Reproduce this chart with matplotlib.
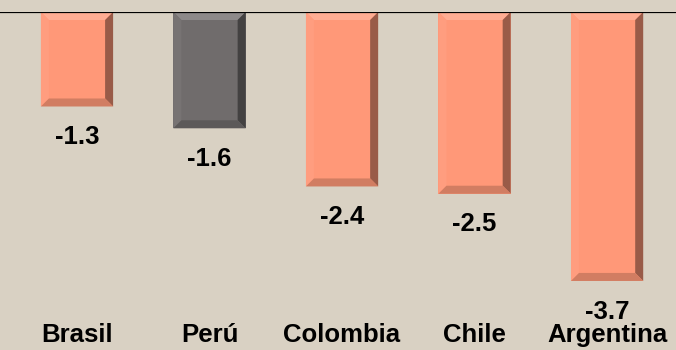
import matplotlib
matplotlib.use("Agg")
import matplotlib.pyplot as plt
from matplotlib.patches import Polygon

countries = ["Brasil", "Perú", "Colombia", "Chile", "Argentina"]
values = [-1.3, -1.6, -2.4, -2.5, -3.7]
highlight = "Perú"

BG = "#D9D1C3"
ORANGE = "#FF9878"
GRAY = "#706C6C"


def shade(hex_color, f):
    r, g, b = matplotlib.colors.to_rgb(hex_color)
    if f >= 1:
        return (r + (1 - r) * (f - 1), g + (1 - g) * (f - 1), b + (1 - b) * (f - 1))
    return (r * f, g * f, b * f)


fig = plt.figure(figsize=(6.76, 3.5), dpi=100, facecolor=BG)
ax = fig.add_axes([0, 0, 1, 338 / 350])
ax.set_facecolor(BG)

xs = list(range(len(countries)))
width = 0.545
colors = [GRAY if c == highlight else ORANGE for c in countries]
bars = ax.bar(xs, values, width=width, color=colors, zorder=2, linewidth=0)

ax.set_xlim(-0.581, 4.52)
ax.set_ylim(-4.65, 0)

# bevel in pixel sizes converted to data units
bx = 8 / 132.5
by = 8 / 72.7
for bar, col in zip(bars, colors):
    x0 = bar.get_x()
    x1 = x0 + bar.get_width()
    y0 = bar.get_height()  # bottom (negative)
    y1 = 0
    top = [(x0, y1), (x1, y1), (x1 - bx, y1 - by), (x0 + bx, y1 - by)]
    bottom = [(x0, y0), (x1, y0), (x1 - bx, y0 + by), (x0 + bx, y0 + by)]
    left = [(x0, y1), (x0 + bx, y1 - by), (x0 + bx, y0 + by), (x0, y0)]
    right = [(x1, y1), (x1 - bx, y1 - by), (x1 - bx, y0 + by), (x1, y0)]
    ax.add_patch(Polygon(top, closed=True, color=shade(col, 1.2), lw=0, zorder=3))
    ax.add_patch(Polygon(left, closed=True, color=shade(col, 1.05), lw=0, zorder=3))
    ax.add_patch(Polygon(right, closed=True, color=shade(col, 0.6), lw=0, zorder=3))
    ax.add_patch(Polygon(bottom, closed=True, color=shade(col, 0.82), lw=0, zorder=3))

for x, v in zip(xs, values):
    ax.annotate(f"{v:.1f}", (x, v), xytext=(0, -22), textcoords="offset points",
                ha="center", va="center", fontsize=18.5, fontweight="bold",
                family="Liberation Sans", zorder=4)

for x, c in zip(xs, countries):
    ax.text(x, -4.44, c, ha="center", va="center", fontsize=18.5,
            fontweight="bold", family="Liberation Sans")

ax.axhline(0, color="black", lw=1.6, zorder=5)
for s in ax.spines.values():
    s.set_visible(False)
ax.set_xticks([])
ax.set_yticks([])

fig.savefig("out.png", dpi=100, facecolor=BG)
